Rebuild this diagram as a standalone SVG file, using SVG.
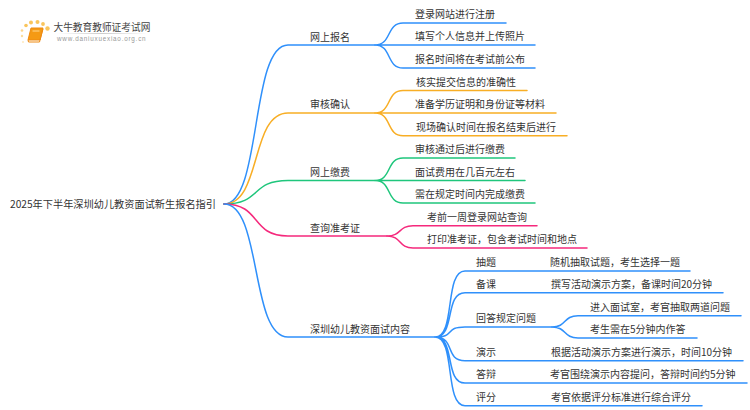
<svg xmlns="http://www.w3.org/2000/svg" width="750" height="410" viewBox="0 0 750 410">
<style>
text{font-family:"Noto Sans CJK SC","Liberation Sans",sans-serif;font-size:10px;fill:#333}
.c{fill:none;stroke-width:1.5;stroke-linecap:round}
.b{stroke:#2f90fb}.o{stroke:#f8ae25}.g{stroke:#1fc67c}.p{stroke:#f5297c}
</style>
<defs><linearGradient id="fade"><stop offset="0" stop-color="#ccc" stop-opacity="0"/><stop offset=".5" stop-color="#ccc"/><stop offset="1" stop-color="#ccc" stop-opacity="0"/></linearGradient></defs>
<rect width="750" height="410" fill="#fff"/>
<g id="logo">
<g fill="#f9c55c"><circle cx="22" cy="30.500" r="1.300" opacity=".7"/><circle cx="26" cy="25.500" r="1.800"/><circle cx="31" cy="22.500" r="2"/><circle cx="37.500" cy="22" r="2"/><circle cx="43" cy="24" r="1.900"/><circle cx="47.500" cy="28.500" r="2.200"/><circle cx="22" cy="36" r="1.200" opacity=".6"/><circle cx="23" cy="42" r="1" opacity=".4"/></g>
<path d="M31 28h12l-3 12H28z" fill="#f59a14" stroke="#ee8a10" stroke-width="1" stroke-linejoin="round"/>
<path d="M28 40l.5 2h11l3.500-13" fill="none" stroke="#ee8a10" stroke-width="1"/>
<path d="M32.500 31h7" stroke="#ffd890" stroke-width="1"/>
<text x="53.500" y="31" style="font-size:9.700px;fill:#444">大牛教育教师证考试网</text>
<rect x="57" y="33" width="91" height="1" fill="url(#fade)"/>
<text x="57" y="41" style="font-size:6.300px;fill:#999;letter-spacing:.78px;font-family:'Liberation Sans',sans-serif">www.daniuxuexiao.org.cn</text>
</g>
<g id="connectors">
<path class="c b" d="M224 204C262 204 250 45 288 45H375"/>
<path class="c o" d="M224 204C262 204 250 113 288 113H375"/>
<path class="c g" d="M224 204C262 204 250 180.500 288 180.500H375"/>
<path class="c p" d="M224 204C262 204 250 236 288 236H387"/>
<path class="c b" d="M224 204C262 204 250 337 288 337H435"/>
<path class="c b" d="M375 45C392 45 386 23 403 23H506M375 45H535M375 45C392 45 386 68 403 68H535"/>
<path class="c o" d="M375 113C392 113 386 90.500 403 90.500H527M375 113H556M375 113C392 113 386 135.700 403 135.700H567"/>
<path class="c g" d="M375 180.500C392 180.500 386 158 403 158H515M375 180.500H525M375 180.500C392 180.500 386 203 403 203H535"/>
<path class="c p" d="M387 236C402 236 398 225.700 413 225.700H537M387 236C402 236 398 248 413 248H587"/>
<path class="c b" d="M435 337C456 337 444 271 465 271H690M435 337C456 337 444 292.700 465 292.700H723M435 337C456 337 444 327 465 327H552M435 337C456 337 444 360.700 465 360.700H743M435 337C456 337 444 383 465 383H747M435 337C456 337 444 405.700 465 405.700H702"/>
<path class="c b" d="M552 327C567 327 563 315.700 578 315.700H741M552 327C567 327 563 338 578 338H697"/>
</g>
<g id="root"><text x="10" y="208" style="font-size:10.200px">2025年下半年深圳幼儿教资面试新生报名指引</text></g>
<g id="n1"><text x="310" y="41">网上报名</text></g>
<g id="n1a"><text x="415" y="18">登录网站进行注册</text></g>
<g id="n1b"><text x="415" y="40">填写个人信息并上传照片</text></g>
<g id="n1c"><text x="415" y="63">报名时间将在考试前公布</text></g>
<g id="n2"><text x="310" y="108">审核确认</text></g>
<g id="n2a"><text x="416" y="86">核实提交信息的准确性</text></g>
<g id="n2b"><text x="415" y="108">准备学历证明和身份证等材料</text></g>
<g id="n2c"><text x="416" y="131">现场确认时间在报名结束后进行</text></g>
<g id="n3"><text x="310" y="176">网上缴费</text></g>
<g id="n3a"><text x="415" y="153">审核通过后进行缴费</text></g>
<g id="n3b"><text x="415" y="176">面试费用在几百元左右</text></g>
<g id="n3c"><text x="415" y="198">需在规定时间内完成缴费</text></g>
<g id="n4"><text x="310" y="232">查询准考证</text></g>
<g id="n4a"><text x="427" y="221">考前一周登录网站查询</text></g>
<g id="n4b"><text x="427" y="243">打印准考证，包含考试时间和地点</text></g>
<g id="n5"><text x="310" y="333">深圳幼儿教资面试内容</text></g>
<g id="n5a"><text x="476" y="266">抽题</text><text x="550" y="266">随机抽取试题，考生选择一题</text></g>
<g id="n5b"><text x="476" y="288">备课</text><text x="551" y="288">撰写活动演示方案，备课时间20分钟</text></g>
<g id="n5c"><text x="476" y="322">回答规定问题</text><text x="590" y="311">进入面试室，考官抽取两道问题</text><text x="590" y="333">考生需在5分钟内作答</text></g>
<g id="n5d"><text x="476" y="356">演示</text><text x="551" y="356">根据活动演示方案进行演示，时间10分钟</text></g>
<g id="n5e"><text x="476" y="378">答辩</text><text x="550" y="378">考官围绕演示内容提问，答辩时间约5分钟</text></g>
<g id="n5f"><text x="476" y="401">评分</text><text x="551" y="401">考官依据评分标准进行综合评分</text></g>
</svg>
